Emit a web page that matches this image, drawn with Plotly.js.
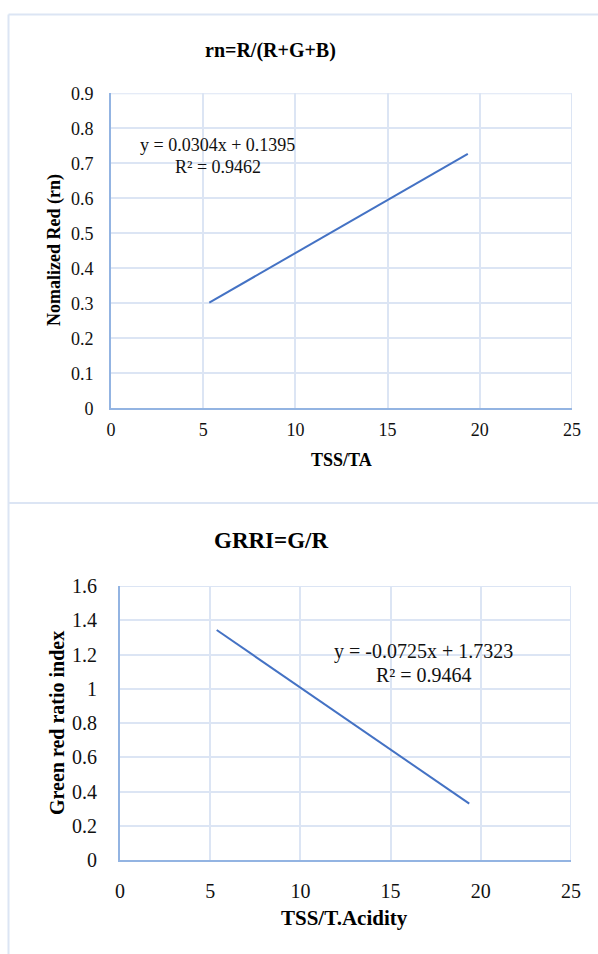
<!DOCTYPE html>
<html>
<head>
<meta charset="utf-8">
<script src="https://cdn.plot.ly/plotly-3.0.1.min.js"></script>
<style>html,body{margin:0;padding:0;background:#fff;}#chart{width:598px;height:954px;}</style>
</head>
<body>
<div id="chart"></div>
<script>
// Chart 1: rn = R/(R+G+B) trend line vs TSS/TA
const rnX = [5.33, 19.35];
const rnY = [0.302, 0.727];
const rnTitle = "rn=R/(R+G+B)";
const rnXTitle = "TSS/TA";
const rnYTitle = "Nomalized Red (rn)";
const rnEq = "y = 0.0304x + 0.1395";
const rnR2 = "R² = 0.9462";

// Chart 2: GRRI = G/R trend line vs TSS/T.Acidity
const grX = [5.36, 19.36];
const grY = [1.343, 0.329];
const grTitle = "GRRI=G/R";
const grXTitle = "TSS/T.Acidity";
const grYTitle = "Green red ratio index";
const grEq = "y = -0.0725x + 1.7323";
const grR2 = "R² = 0.9464";

const W = 598, H = 954;
const px = v => v / W;
const py = v => 1 - v / H;
const FONT = "Liberation Serif, Times New Roman, serif";
const GRID = "#dce5f4";
const AXL = "#93b4e2";
const LINE = "#4472c4";
const TXT = "#111";

const traces = [
  {x: rnX, y: rnY, type: "scatter", mode: "lines", line: {color: LINE, width: 2}, xaxis: "x", yaxis: "y", hoverinfo: "skip"},
  {x: grX, y: grY, type: "scatter", mode: "lines", line: {color: LINE, width: 2}, xaxis: "x2", yaxis: "y2", hoverinfo: "skip"}
];

function ax(extra) {
  return Object.assign({
    showgrid: true, gridcolor: GRID, gridwidth: 2,
    zeroline: false, showline: false, ticks: "",
    tickfont: {family: FONT, size: 18, color: TXT},
    fixedrange: true
  }, extra);
}

const layout = {
  width: W, height: H,
  margin: {l: 0, r: 0, t: 0, b: 0},
  paper_bgcolor: "#fff", plot_bgcolor: "#fff",
  showlegend: false,
  xaxis: ax({domain: [px(111), px(572)], range: [0, 25], dtick: 5, tick0: 0, anchor: "y",
    showline: true, linecolor: AXL, linewidth: 2, mirror: false, ticklabelstandoff: 4}),
  yaxis: ax({domain: [py(408.3), py(93.3)], range: [0, 0.9], dtick: 0.1, tick0: 0, anchor: "x",
    showline: true, linecolor: AXL, linewidth: 2, ticklabelstandoff: 12}),
  xaxis2: ax({domain: [px(120), px(571)], range: [0, 25], dtick: 5, tick0: 0, anchor: "y2",
    showline: true, linecolor: AXL, linewidth: 2, tickfont: {family: FONT, size: 20, color: TXT}, ticklabelstandoff: 12}),
  yaxis2: ax({domain: [py(860), py(586)], range: [0, 1.6], dtick: 0.2, tick0: 0, anchor: "x2",
    showline: true, linecolor: AXL, linewidth: 2, tickfont: {family: FONT, size: 20, color: TXT}, ticklabelstandoff: 17}),
  shapes: [
    {type: "line", xref: "paper", yref: "paper", x0: px(8.5), x1: 1, y0: py(14.5), y1: py(14.5), line: {color: GRID, width: 2}},
    {type: "line", xref: "paper", yref: "paper", x0: px(8.5), x1: px(8.5), y0: py(14.5), y1: 0, line: {color: GRID, width: 2}},
    {type: "line", xref: "paper", yref: "paper", x0: px(8.5), x1: 1, y0: py(503), y1: py(503), line: {color: GRID, width: 2}},
    {type: "line", xref: "x", yref: "y", x0: 0, x1: 25, y0: 0.9, y1: 0.9, line: {color: GRID, width: 2}},
    {type: "line", xref: "x", yref: "y", x0: 25, x1: 25, y0: 0, y1: 0.9, line: {color: GRID, width: 2}},
    {type: "line", xref: "x2", yref: "y2", x0: 0, x1: 25, y0: 1.6, y1: 1.6, line: {color: GRID, width: 2}},
    {type: "line", xref: "x2", yref: "y2", x0: 25, x1: 25, y0: 0, y1: 1.6, line: {color: GRID, width: 2}}
  ],
  annotations: [
    {text: "<b>" + rnTitle + "</b>", xref: "paper", yref: "paper", x: px(270), y: py(50), showarrow: false,
      font: {family: FONT, size: 20, color: "#000"}, xanchor: "center", yanchor: "middle"},
    {text: "<b>" + rnXTitle + "</b>", xref: "paper", yref: "paper", x: px(342), y: py(460), showarrow: false,
      font: {family: FONT, size: 18, color: "#000"}, xanchor: "center", yanchor: "middle"},
    {text: "<b>" + rnYTitle + "</b>", xref: "paper", yref: "paper", x: px(54), y: py(250), showarrow: false, textangle: -90,
      font: {family: FONT, size: 18, color: "#000"}, xanchor: "center", yanchor: "middle"},
    {text: rnEq, xref: "paper", yref: "paper", x: px(217), y: py(145), showarrow: false,
      font: {family: FONT, size: 18, color: TXT}, xanchor: "center", yanchor: "middle"},
    {text: rnR2, xref: "paper", yref: "paper", x: px(217.5), y: py(166.5), showarrow: false,
      font: {family: FONT, size: 18, color: TXT}, xanchor: "center", yanchor: "middle"},

    {text: "<b>" + grTitle + "</b>", xref: "paper", yref: "paper", x: px(271), y: py(540), showarrow: false,
      font: {family: FONT, size: 23, color: "#000"}, xanchor: "center", yanchor: "middle"},
    {text: "<b>" + grXTitle + "</b>", xref: "paper", yref: "paper", x: px(345), y: py(918), showarrow: false,
      font: {family: FONT, size: 21, color: "#000"}, xanchor: "center", yanchor: "middle"},
    {text: "<b>" + grYTitle + "</b>", xref: "paper", yref: "paper", x: px(57), y: py(723), showarrow: false, textangle: -90,
      font: {family: FONT, size: 20, color: "#000"}, xanchor: "center", yanchor: "middle"},
    {text: grEq, xref: "paper", yref: "paper", x: px(423), y: py(651.5), showarrow: false,
      font: {family: FONT, size: 20, color: TXT}, xanchor: "center", yanchor: "middle"},
    {text: grR2, xref: "paper", yref: "paper", x: px(424), y: py(675), showarrow: false,
      font: {family: FONT, size: 20, color: TXT}, xanchor: "center", yanchor: "middle"}
  ]
};

Plotly.newPlot("chart", traces, layout, {displayModeBar: false, staticPlot: true});
</script>
</body>
</html>
